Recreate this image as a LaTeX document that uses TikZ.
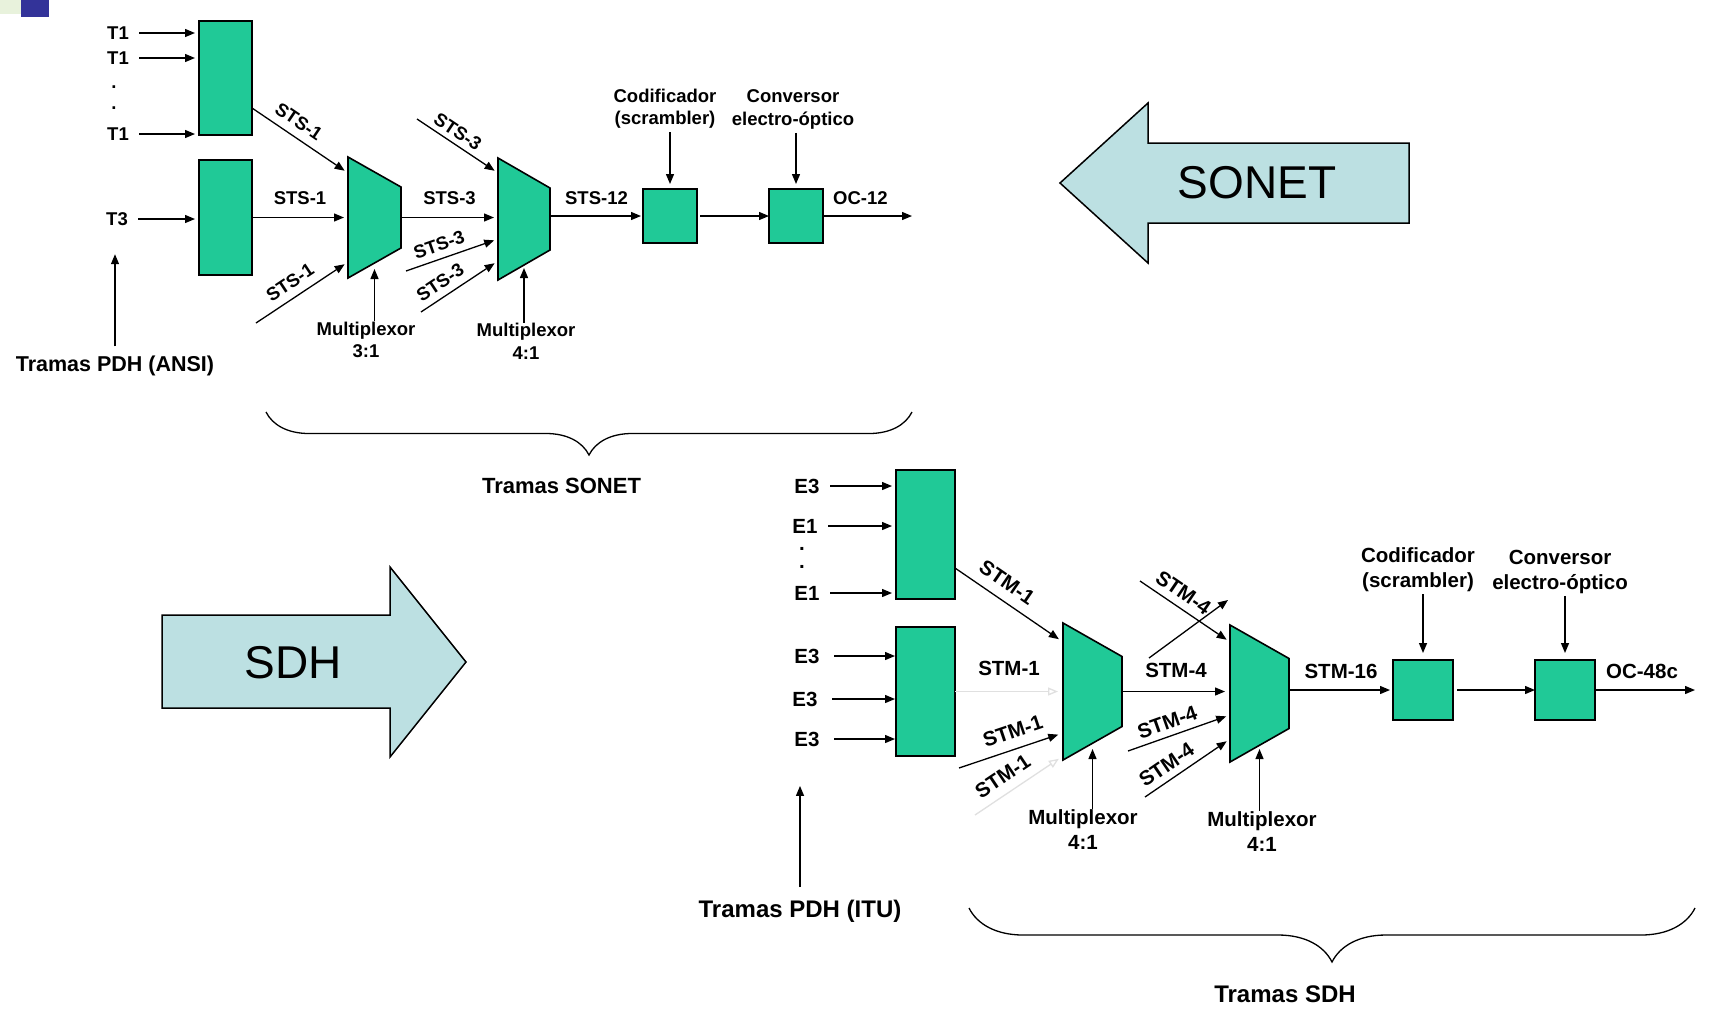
\documentclass[tikz,border=0pt]{standalone}
\usepackage{fontspec}
\setmainfont{Liberation Sans}
\usetikzlibrary{arrows.meta,positioning,decorations.pathreplacing}

\definecolor{mint}{RGB}{32,201,151}
\definecolor{pale}{RGB}{188,224,226}
\definecolor{slideblue}{RGB}{51,51,153}
\definecolor{slidegreen}{RGB}{232,242,220}
\newcommand\sonetfont{\fontsize{18.5}{22.5}\selectfont\bfseries}
\newcommand\sdhfont{\fontsize{20.5}{25}\selectfont\bfseries}

\begin{document}
\begin{tikzpicture}[x=1pt,y=-1pt,->,>={Triangle[length=10pt,width=8pt]},line width=1.3pt,
    box/.style={draw,fill=mint,line width=1.8pt,inner sep=0pt,outer sep=0pt},
    muxbase/.style={inner sep=0pt,outer sep=0pt},
    muxshape/.style={-,draw,fill=mint,line width=1.6pt},
    lab/.style={font=\sonetfont,inner sep=0pt},
    slab/.style={font=\sdhfont,inner sep=0pt},
    feed/.style={shorten <=10pt,shorten >=4pt},
    faint/.style={draw=black!12,>={Triangle[open,length=10pt,width=8pt]}},
    bigarrow/.style={-,draw,fill=pale,line width=1.5pt},
    bigtxt/.style={font=\fontsize{46}{50}\selectfont,inner sep=0pt},
    curly/.style={-,decorate,decoration={brace,mirror,amplitude=#1}}]

  \fill[white] (0,0) rectangle (1728,1018);
  \useasboundingbox (0,0) rectangle (1728,1018);
  \fill[slidegreen] (0,0) rectangle (21,14);
  \fill[slideblue] (21,0) rectangle (49,17);

  % SONET
  \node[box,minimum width=53pt,minimum height=114pt] (box1) at (225.5,78) {};
  \node[box,minimum width=53pt,minimum height=115pt] (box2) [below=25pt of box1] {};
  \node[muxbase,minimum width=53pt,minimum height=121pt] (mux1) at (374.5,217.5) {};
  \node[muxbase,minimum width=52pt,minimum height=122pt] (mux2) at (524,219) {};
  \node[box,minimum size=54pt] (scr1) at (670,216) {};
  \node[box,minimum size=54pt] (conv1) [right=72pt of scr1] {};

  \node[lab] (t1a) at (118,33) {T1};
  \node[lab] (t1b) at (118,58) {T1};
  \node[lab] (dt1) at (114,87) {.};
  \node[lab] (dt2) at (114,108) {.};
  \node[lab] (t1c) at (118,134) {T1};
  \node[lab] (t3) at (117,219) {T3};
  \node[font=\fontsize{21.5}{24}\selectfont\bfseries,inner sep=0pt] (pdhA) at (115,366) {Tramas PDH (ANSI)};

  \node[lab,align=center] (codA) at (665,108.7) {Codificador\\(scrambler)};
  \node[lab,align=center] (cnvA) at (793,109.5) {Conversor\\electro-óptico};
  \node[lab,align=center] (mlab1) at (366,340) {Multiplexor\\3:1};
  \node[lab,align=center] (mlab2) at (526,341.5) {Multiplexor\\4:1};

  % SDH
  \node[box,minimum width=59pt,minimum height=129pt] (box3) at (925.5,534.5) {};
  \node[box,minimum width=59pt,minimum height=129pt] (box4) [below=28pt of box3] {};
  \node[muxbase,minimum width=59pt,minimum height=137pt] (mux3) at (1092.5,691.5) {};
  \node[muxbase,minimum width=59pt,minimum height=137pt] (mux4) at (1259.5,693.5) {};
  \node[box,minimum size=60pt] (scr2) at (1423,690) {};
  \node[box,minimum size=60pt] (conv2) [right=82pt of scr2] {};

  \node[slab] (e3a) at (807,486) {E3};
  \node[slab] (e1a) at (805,526) {E1};
  \node[slab] (dt3) at (802,549) {.};
  \node[slab] (dt4) at (802,567) {.};
  \node[slab] (e1b) at (807,593) {E1};
  \node[slab] (e3b) at (807,656) {E3};
  \node[slab] (e3c) at (805,699) {E3};
  \node[slab] (e3d) at (807,739) {E3};
  \node[font=\fontsize{24}{27}\selectfont\bfseries,inner sep=0pt] (pdhI) at (800,911) {Tramas PDH (ITU)};

  \node[slab,align=center] (codB) at (1418,569.5) {Codificador\\(scrambler)};
  \node[slab,align=center] (cnvB) at (1560,571.5) {Conversor\\electro-óptico};
  \node[slab,align=center] (mlab3) at (1083,829.3) {Multiplexor\\4:1};
  \node[slab,align=center] (mlab4) at (1262,831.3) {Multiplexor\\4:1};

  \foreach \m/\d in {mux1/30,mux2/30,mux3/33.5,mux4/33.5}
    \draw[muxshape] (\m.north west) -- ([yshift=-\d pt]\m.north east)
      -- ([yshift=\d pt]\m.south east) -- (\m.south west) -- cycle;

  % SONET connectors
  \foreach \t in {t1a,t1b,t1c}
    \draw[feed] (\t.east) -- (box1.west |- \t);
  \draw[feed] (t3.east) -- (box2.west |- t3);
  \draw[shorten <=9pt,shorten >=28pt] (pdhA.north) -- (pdhA.north |- t3.south);

  \draw[shorten >=4pt] ([yshift=-30pt]box1.east) -- node[lab,sloped,above=7.9pt,pos=0.4] (ls1a) {STS-1} ([yshift=44.5pt]mux1.west);
  \draw[shorten >=4pt] (box2.east) -- node[lab,above=12pt] (ls1b) {STS-1} (mux1.west);
  \coordinate (in1c) at (256,323);
  \draw[shorten >=4pt] (in1c) -- node[lab,sloped,above=7.9pt,pos=0.46] (ls1c) {STS-1} ([yshift=-44.5pt]mux1.west);

  \draw[shorten >=4pt] (mux1.east) -- node[lab,above=12pt] (ls3a) {STS-3} (mux2.west |- mux1.east);
  \coordinate (in2a) at (417,119);
  \draw[shorten >=4pt] (in2a) -- node[lab,sloped,above=5pt,pos=0.42] (ls3b) {STS-3} ([yshift=46pt]mux2.west);
  \coordinate (in2b) at (406,271);
  \draw[shorten >=4pt] (in2b) -- node[lab,sloped,above=7pt,pos=0.41] (ls3c) {STS-3} ([yshift=-20pt]mux2.west);
  \coordinate (in2c) at (421,312);
  \draw[shorten >=4pt] (in2c) -- node[lab,sloped,above=7pt,pos=0.35] (ls3d) {STS-3} ([yshift=-42pt]mux2.west);

  \draw[shorten >=2pt] (mux2.east |- scr1.west) -- node[lab,above=11pt] (ls12) {STS-12} (scr1.west);
  \draw[shorten <=3pt] (scr1.east) -- (conv1.west);
  \coordinate (oc12) at (912,216);
  \draw (conv1.east) -- node[lab,above=11pt,pos=0.42] (loc12) {OC-12} (oc12);

  \draw[shorten <=3pt,shorten >=5pt] (codA.south -| scr1) -- (scr1.north);
  \draw[shorten <=3pt,shorten >=5pt] (cnvA.south -| conv1) -- (conv1.north);
  \draw (mux1.south |- mlab1.north) -- ([yshift=9pt]mux1.south);
  \draw (mux2.south |- mlab2.north) -- ([yshift=12pt]mux2.south);

  % SDH connectors
  \foreach \e in {e3a,e1a,e1b}
    \draw[feed] (\e.east) -- (box3.west |- \e);
  \foreach \e in {e3b,e3c,e3d}
    \draw[feed,shorten <=14pt,shorten >=1pt] (\e.east) -- (box4.west |- \e);
  \draw[shorten <=12pt,shorten >=39pt] (pdhI.north) -- (pdhI.north |- e3d.south);

  \draw[shorten >=5pt] ([yshift=-33.5pt]box3.east) -- node[slab,sloped,above=9.7pt,pos=0.39] (lm1a) {STM-1} ([yshift=49.5pt]mux3.west);
  \draw[faint,shorten >=5pt] (box4.east) -- node[slab,above=15pt] (lm1b) {STM-1} (mux3.west);
  \coordinate (in3c) at (959,768);
  \draw[shorten >=5pt] (in3c) -- node[slab,sloped,above=9.6pt,pos=0.57] (lm1c) {STM-1} ([yshift=-41.5pt]mux3.west);
  \coordinate (in3d) at (975,815);
  \draw[faint,shorten >=5pt] (in3d) -- node[slab,sloped,above=8.7pt,pos=0.42] (lm1d) {STM-1} ([yshift=-64.5pt]mux3.west);

  \draw[shorten >=5pt] (mux3.east) -- node[slab,above=13pt] (lm4a) {STM-4} (mux4.west |- mux3.east);
  \coordinate (x4a) at (1149,658);
  \coordinate (x4b) at (1228,600);
  \draw (x4a) -- (x4b);
  \coordinate (in4a) at (1140,581);
  \draw[shorten >=4pt] (in4a) -- node[slab,sloped,above=6.9pt,pos=0.39] (lm4b) {STM-4} ([yshift=51.5pt]mux4.west);
  \coordinate (in4b) at (1128,751);
  \draw[shorten >=4pt] (in4b) -- node[slab,sloped,above=6.1pt,pos=0.43] (lm4c) {STM-4} ([yshift=-21.5pt]mux4.west);
  \coordinate (in4c) at (1145,797);
  \draw[shorten >=4pt] (in4c) -- node[slab,sloped,above=6.7pt,pos=0.35] (lm4d) {STM-4} ([yshift=-45.5pt]mux4.west);

  \draw[shorten >=3pt] (mux4.east |- scr2.west) -- node[slab,above=11pt] (lm16) {STM-16} (scr2.west);
  \draw[shorten <=4pt] (scr2.east) -- (conv2.west);
  \coordinate (oc48) at (1695,690);
  \draw (conv2.east) -- node[slab,above=11pt,pos=0.47] (loc48) {OC-48c} (oc48);

  \draw[shorten <=2pt,shorten >=7pt] (codB.south -| scr2) -- (scr2.north);
  \draw[shorten <=2pt,shorten >=7pt] (cnvB.south -| conv2) -- (conv2.north);
  \draw (mux3.south |- mlab3.north) -- ([yshift=11pt]mux3.south);
  \draw (mux4.south |- mlab4.north) -- ([yshift=13pt]mux4.south);

  % braces
  \coordinate (bs1) at (266,412);
  \coordinate (bs2) at (912,412);
  \draw[curly=43pt] (bs1) -- (bs2);
  \node[font=\fontsize{22}{25}\selectfont\bfseries,inner sep=0pt] (trsonet) at (561.5,486) {Tramas SONET};
  \coordinate (bd1) at (969,908);
  \coordinate (bd2) at (1695,908);
  \draw[curly=54pt] (bd1) -- (bd2);
  \node[font=\fontsize{24}{27}\selectfont\bfseries,inner sep=0pt] (trsdh) at (1285,994) {Tramas SDH};

  % big arrows
  \draw[bigarrow] (1060,183) -- (1148,103) -- (1148,143) -- (1409,143) -- (1409,223)
    -- (1148,223) -- (1148,263) -- cycle;
  \node[bigtxt] (sonet) at (1257,183) {SONET};
  \draw[bigarrow] (162,615) -- (390,615) -- (390,567) -- (466,662) -- (390,757)
    -- (390,708) -- (162,708) -- cycle;
  \node[bigtxt] (sdh) at (293,663) {SDH};
\end{tikzpicture}
\end{document}
